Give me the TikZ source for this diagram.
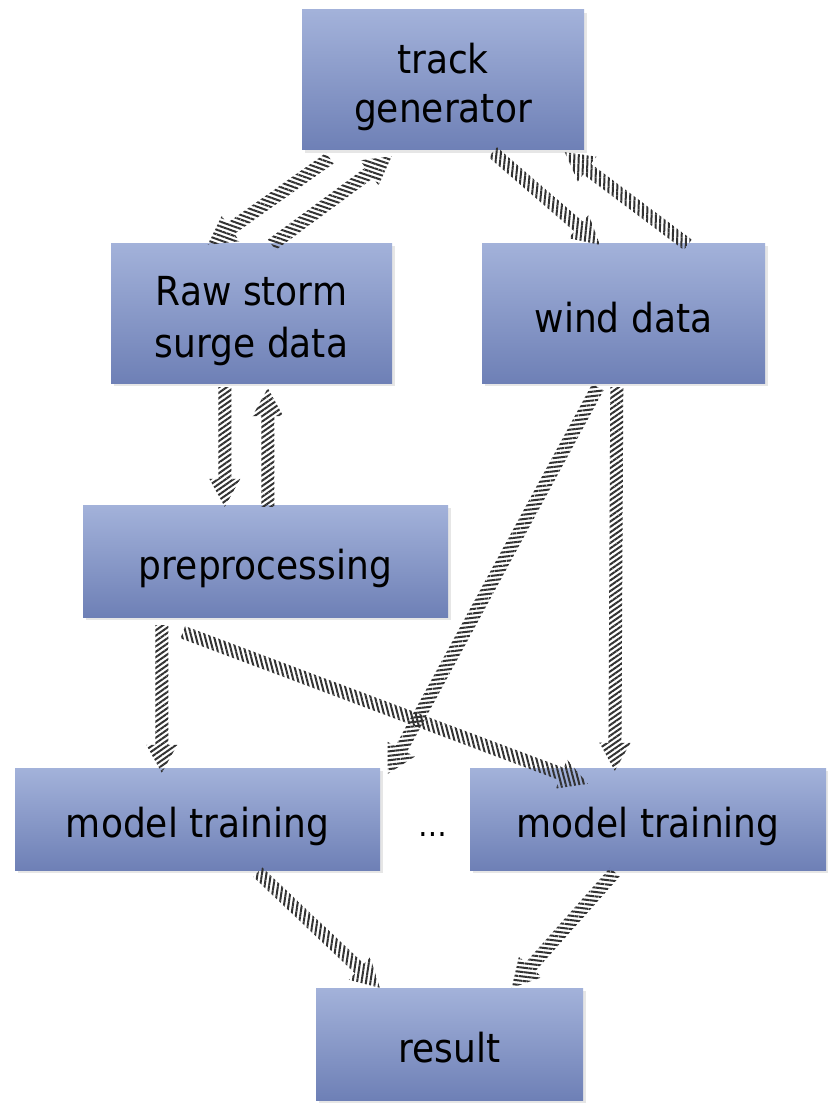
\documentclass[tikz,border=0pt]{standalone}
\usepackage{fontspec}
\setmainfont{DejaVu Sans}[FakeStretch=0.9]
\usetikzlibrary{calc,patterns.meta,shadows}

\definecolor{boxtop}{RGB}{163,178,218}
\definecolor{boxbot}{RGB}{110,128,182}
\definecolor{hatch}{RGB}{50,50,50}

\tikzset{
  flowbox/.style={rectangle, inner sep=0pt,
    top color=boxtop, bottom color=boxbot,
    drop shadow={shadow xshift=3pt, shadow yshift=-3pt, opacity=0.2}},
  boxtext/.style={inner sep=0pt, anchor=base, font=\fontsize{40}{52}\selectfont},
}

\newcommand{\shaftw}{6.5pt}
\newcommand{\headw}{15.5pt}
\newcommand{\headlen}{28pt}

% hatched block arrow from #1 to #2
\newcommand{\hatcharrow}[2]{%
  \path let \p1=($(#2)-(#1)$), \n1={atan2(\y1,\x1)} in
    \pgfextra{\pgfmathsetmacro\harrowangle{\n1+125}\xdef\harrowangle{\harrowangle}};
  \coordinate (hb) at ($(#2)!\headlen!(#1)$);
  \path[pattern={Lines[angle=\harrowangle,distance=4.4pt,line width=2pt]}, pattern color=hatch]
    ($(#1)!\shaftw!90:(#2)$) -- ($(hb)!\shaftw!90:(#2)$) -- ($(hb)!\headw!90:(#2)$)
    -- (#2) -- ($(hb)!\headw!-90:(#2)$) -- ($(hb)!\shaftw!-90:(#2)$)
    -- ($(#1)!\shaftw!-90:(#2)$) -- cycle;}

\begin{document}
\begin{tikzpicture}[x=1pt,y=1pt]
\useasboundingbox (0,0) rectangle (827,-1110);

% boxes
\node[flowbox, minimum width=282pt, minimum height=140pt] (tg)   at (443,-80)    {};
\node[flowbox, minimum width=281pt, minimum height=140pt] (raw)  at (251.5,-313) {};
\node[flowbox, minimum width=283pt, minimum height=140pt] (wind) at (623.5,-313) {};
\node[flowbox, minimum width=365pt, minimum height=112pt] (pre)  at (265.5,-561) {};
\node[flowbox, minimum width=365pt, minimum height=102pt] (m1)   at (197.5,-819) {};
\node[flowbox, minimum width=356pt, minimum height=102pt] (m2)   at (648,-819)   {};
\node[flowbox, minimum width=267pt, minimum height=112pt] (res)  at (449.5,-1044){};

% box labels, placed by their baselines
\node[boxtext] (tgA)   at ($(tg.center)+(0,6)$)    {track};
\node[boxtext] (tgB)   at ($(tg.center)+(0,-43)$)  {generator};
\node[boxtext] (rawA)  at ($(raw.center)+(0,8)$)   {Raw storm};
\node[boxtext] (rawB)  at ($(raw.center)+(0,-44)$) {surge data};
\node[boxtext] (windT) at ($(wind.center)+(0,-19)$){wind data};
\node[boxtext] (preT)  at ($(pre.center)+(0,-18)$) {preprocessing};
\node[boxtext] (m1T)   at ($(m1.center)+(0,-18)$)  {model training};
\node[boxtext] (m2T)   at ($(m2.center)+(0,-18)$)  {model training};
\node[boxtext] (resT)  at ($(res.center)+(0,-18)$) {result};
\node[inner sep=0pt, anchor=base, font=\fontsize{32}{36}\selectfont] (dots) at (433,-836) {…};

% arrow end points on the box borders
\coordinate (a1s) at ($(tg.south west)+(28,-8)$);
\coordinate (a1e) at ($(raw.north west)+(97,-2)$);
\coordinate (a2s) at ($(raw.north west)+(161,-2)$);
\coordinate (a2e) at ($(tg.south west)+(90,-6)$);
\coordinate (a3s) at ($(tg.south west)+(191,-2)$);
\coordinate (a3e) at ($(wind.north west)+(118,-2)$);
\coordinate (a4s) at ($(wind.north west)+(206,-2)$);
\coordinate (a4e) at ($(tg.south west)+(263,-2)$);
\coordinate (a5s) at ($(raw.south west)+(114,-4)$);
\coordinate (a5e) at ($(pre.north west)+(142,-2)$);
\coordinate (a6s) at ($(pre.north west)+(185,-2)$);
\coordinate (a6e) at ($(raw.south west)+(157,-5)$);
\coordinate (a7s) at ($(wind.south west)+(116,-4)$);
\coordinate (a7e) at ($(m1.north west)+(373,-6)$);
\coordinate (a8s) at ($(wind.south west)+(135,-4)$);
\coordinate (a8e) at ($(m2.north west)+(145,-3)$);
\coordinate (a9s) at ($(pre.south west)+(79,-8)$);
\coordinate (a9e) at ($(m1.north west)+(147,-5)$);
\coordinate (a10s) at ($(pre.south west)+(100,-15)$);
\coordinate (a10e) at ($(m2.north west)+(118,-16)$);
\coordinate (a11s) at ($(m1.south west)+(243,-2)$);
\coordinate (a11e) at ($(res.north west)+(64,0)$);
\coordinate (a12s) at ($(m2.south west)+(145,-2)$);
\coordinate (a12e) at ($(res.north west)+(196,0)$);

% connectors
\hatcharrow{a1s}{a1e}
\hatcharrow{a2s}{a2e}
\hatcharrow{a3s}{a3e}
\hatcharrow{a4s}{a4e}
\hatcharrow{a5s}{a5e}
\hatcharrow{a6s}{a6e}
\hatcharrow{a7s}{a7e}
\hatcharrow{a8s}{a8e}
\hatcharrow{a9s}{a9e}
\hatcharrow{a10s}{a10e}
\hatcharrow{a11s}{a11e}
\hatcharrow{a12s}{a12e}
\end{tikzpicture}
\end{document}
